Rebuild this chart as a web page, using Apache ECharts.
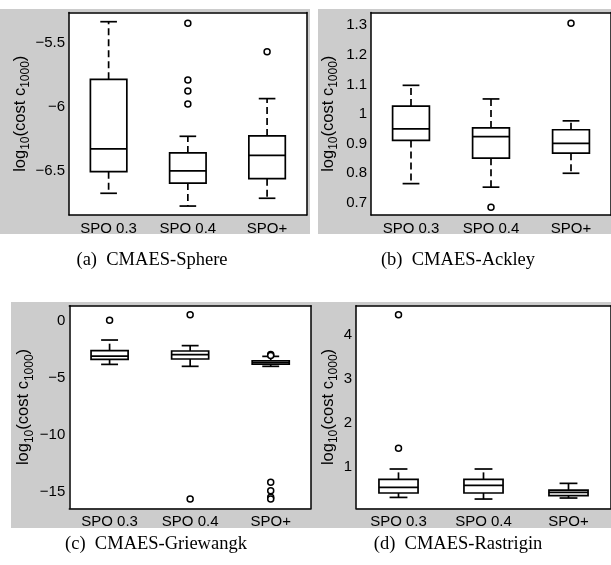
<!DOCTYPE html>
<html>
<head>
<meta charset="utf-8">
<script src="https://cdn.jsdelivr.net/npm/echarts@6/dist/echarts.min.js"></script>
<style>
  html, body { margin: 0; padding: 0; background: #fff; }
  #chart { width: 611px; height: 565px; }
</style>
</head>
<body>
<div id="chart"></div>
<script>
const categories = ['SPO 0.3', 'SPO 0.4', 'SPO+']

// each box: [lower whisker, Q1, median, Q3, upper whisker]
const sphereBox = [
  [-6.674, -6.505, -6.327, -5.782, -5.331],
  [-6.774, -6.594, -6.498, -6.358, -6.228],
  [-6.713, -6.560, -6.377, -6.225, -5.933]
]
const sphereOut = [[1, -5.343], [1, -5.787], [1, -5.873], [1, -5.975], [2, -5.566]]
const sphereTicks = [-6.5, -6, -5.5]
const sphereRange = [-6.844, -5.259]

const ackleyBox = [
  [0.765, 0.911, 0.950, 1.027, 1.097],
  [0.753, 0.851, 0.924, 0.953, 1.051],
  [0.800, 0.868, 0.901, 0.947, 0.977]
]
const ackleyOut = [[1, 0.685], [2, 1.307]]
const ackleyTicks = [0.7, 0.8, 0.9, 1, 1.1, 1.2, 1.3]
const ackleyRange = [0.659, 1.343]

const griewBox = [
  [-3.82, -3.38, -3.09, -2.62, -1.69],
  [-3.99, -3.35, -2.97, -2.65, -2.18],
  [-3.99, -3.79, -3.64, -3.50, -3.12]
]
const griewOut = [[0, 0.03], [1, 0.52], [1, -15.58], [2, -2.95], [2, -3.05],
  [2, -14.13], [2, -14.86], [2, -15.44], [2, -15.58]]
const griewTicks = [-15, -10, -5, 0]
const griewRange = [-16.4, 1.31]

const rastBox = [
  [0.300, 0.400, 0.529, 0.711, 0.947],
  [0.263, 0.400, 0.575, 0.711, 0.947],
  [0.286, 0.339, 0.415, 0.468, 0.620]
]
const rastOut = [[0, 4.46], [0, 1.42]]
const rastTicks = [1, 2, 3, 4]
const rastRange = [0.052, 4.667]

const panels = [
  { box: sphereBox, out: sphereOut, ticks: sphereTicks, range: sphereRange,
    grid: { left: 69, top: 12.5, width: 237.7, height: 202.5 }, nameGap: 34 },
  { box: ackleyBox, out: ackleyOut, ticks: ackleyTicks, range: ackleyRange,
    grid: { left: 371, top: 12.5, width: 247, height: 202.5 }, nameGap: 31 },
  { box: griewBox, out: griewOut, ticks: griewTicks, range: griewRange,
    grid: { left: 69.3, top: 305.7, width: 241.7, height: 202.6 }, nameGap: 34 },
  { box: rastBox, out: rastOut, ticks: rastTicks, range: rastRange,
    grid: { left: 356, top: 305.7, width: 257, height: 202.6 }, nameGap: 16 }
]

const black = '#000'
const sans = 'Liberation Sans'

function fmt (v) {
  return String(v).replace('-', '\u2212')
}

function renderBox (params, api) {
  const i = api.value(0)
  const lo = api.coord([i, api.value(1)])
  const q1 = api.coord([i, api.value(2)])
  const md = api.coord([i, api.value(3)])
  const q3 = api.coord([i, api.value(4)])
  const hi = api.coord([i, api.value(5)])
  const band = api.size([1, 0])[0]
  const bw = band * 0.46 / 2
  const cw = band * 0.21 / 2
  const x = lo[0]
  const solid = { stroke: black, lineWidth: 1.7, fill: null }
  const dashed = { stroke: black, lineWidth: 1.7, lineDash: [7, 4] }
  return {
    type: 'group',
    children: [
      { type: 'line', shape: { x1: x, y1: q3[1], x2: x, y2: hi[1] }, style: dashed },
      { type: 'line', shape: { x1: x, y1: q1[1], x2: x, y2: lo[1] }, style: dashed },
      { type: 'line', shape: { x1: x - cw, y1: hi[1], x2: x + cw, y2: hi[1] }, style: solid },
      { type: 'line', shape: { x1: x - cw, y1: lo[1], x2: x + cw, y2: lo[1] }, style: solid },
      { type: 'rect', shape: { x: x - bw, y: q3[1], width: 2 * bw, height: q1[1] - q3[1] }, style: solid },
      { type: 'line', shape: { x1: x - bw, y1: md[1], x2: x + bw, y2: md[1] }, style: solid }
    ]
  }
}

const grid = []
const xAxis = []
const yAxis = []
const series = []

panels.forEach((p, k) => {
  grid.push(Object.assign({ show: true, backgroundColor: '#fff', borderWidth: 0 }, p.grid))
  const line = { show: true, onZero: false, lineStyle: { color: black, width: 1.5 } }
  const tick = { inside: true, length: 4, lineStyle: { color: black, width: 1 } }
  xAxis.push({
    type: 'category', gridIndex: k, data: categories, position: 'bottom',
    axisLine: line,
    axisTick: Object.assign({ alignWithLabel: true }, tick),
    axisLabel: { color: black, fontSize: 15, fontFamily: sans, margin: 6 },
    splitLine: { show: false }
  })
  xAxis.push({
    type: 'category', gridIndex: k, data: categories, position: 'top',
    axisLine: line,
    axisTick: Object.assign({ alignWithLabel: true }, tick),
    axisLabel: { show: false },
    splitLine: { show: false }
  })
  yAxis.push({
    type: 'value', gridIndex: k, position: 'left',
    min: p.range[0], max: p.range[1],
    axisLine: line,
    axisTick: Object.assign({ customValues: p.ticks }, tick),
    axisLabel: {
      customValues: p.ticks, formatter: fmt,
      color: black, fontSize: 15, fontFamily: sans, margin: 4
    },
    splitLine: { show: false },
    name: '{a|log}{s|10}{a|(cost c}{s|1000}{a|)}',
    nameLocation: 'middle',
    nameRotate: 90,
    nameGap: p.nameGap,
    nameTextStyle: {
      rich: {
        a: { fontSize: 16.5, fontFamily: sans, color: black, verticalAlign: 'top' },
        s: { fontSize: 12, fontFamily: sans, color: black, verticalAlign: 'top', padding: [8, 0, 0, 0] }
      }
    }
  })
  yAxis.push({
    type: 'value', gridIndex: k, position: 'right',
    min: p.range[0], max: p.range[1],
    axisLine: line,
    axisTick: Object.assign({ customValues: p.ticks }, tick),
    axisLabel: { show: false },
    splitLine: { show: false }
  })
  series.push({
    type: 'custom',
    xAxisIndex: 2 * k, yAxisIndex: 2 * k,
    renderItem: renderBox,
    encode: { x: 0, y: [1, 2, 3, 4, 5] },
    data: p.box.map((b, i) => [i].concat(b)),
    z: 3
  })
  series.push({
    type: 'scatter',
    xAxisIndex: 2 * k, yAxisIndex: 2 * k,
    symbol: 'circle', symbolSize: 6,
    itemStyle: { color: '#fff', borderColor: black, borderWidth: 1.5, opacity: 1 },
    data: p.out,
    z: 4
  })
})

const grey = '#cccccc'
const captionStyle = (text) => ({ text, fill: black, font: '18.5px "Liberation Serif"', textAlign: 'center', textVerticalAlign: 'middle' })

const myChart = echarts.init(document.getElementById('chart'))
const option = {
  animation: false,
  grid,
  xAxis,
  yAxis,
  series,
  graphic: {
    elements: [
      { type: 'rect', z: -10, shape: { x: 0, y: 9, width: 310, height: 225 }, style: { fill: grey } },
      { type: 'rect', z: -10, shape: { x: 318, y: 9, width: 293, height: 225 }, style: { fill: grey } },
      { type: 'rect', z: -10, shape: { x: 11, y: 302, width: 300, height: 226 }, style: { fill: grey } },
      { type: 'rect', z: -10, shape: { x: 311, y: 302, width: 300, height: 226 }, style: { fill: grey } },
      { type: 'text', x: 152, y: 260, style: captionStyle('(a)  CMAES-Sphere') },
      { type: 'text', x: 458, y: 260, style: captionStyle('(b)  CMAES-Ackley') },
      { type: 'text', x: 156, y: 544, style: captionStyle('(c)  CMAES-Griewangk') },
      { type: 'text', x: 458, y: 544, style: captionStyle('(d)  CMAES-Rastrigin') }
    ]
  }
}

option && myChart.setOption(option)
</script>
</body>
</html>
